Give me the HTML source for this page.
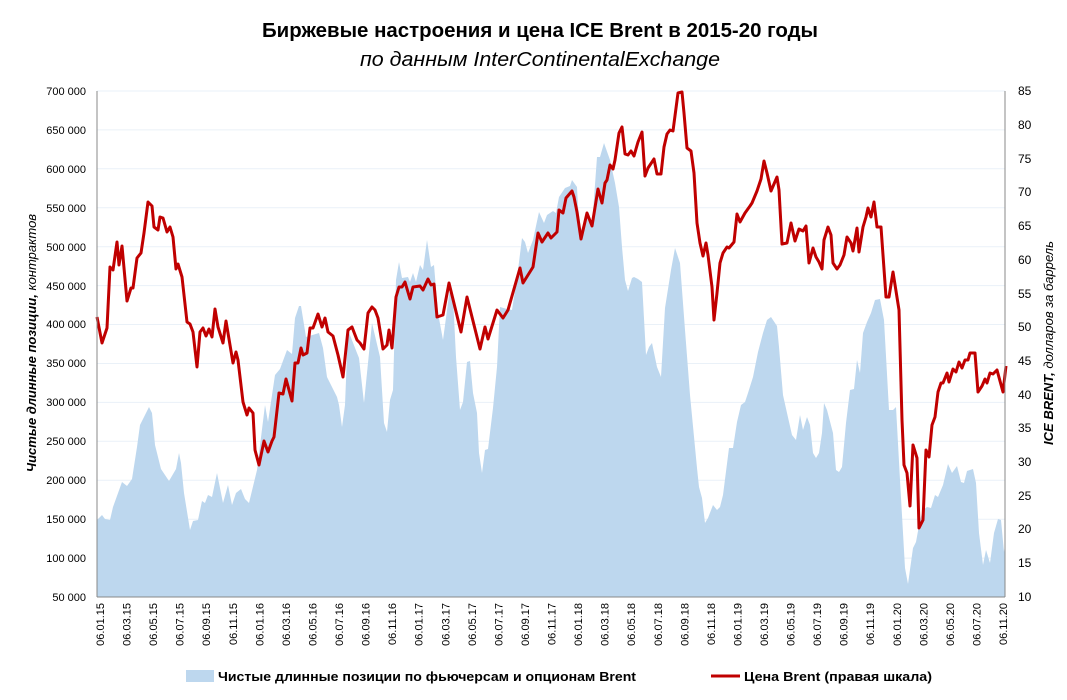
<!DOCTYPE html>
<html><head><meta charset="utf-8"><style>
body{margin:0;background:#fff;}
svg text{font-family:"Liberation Sans",sans-serif;}
</style></head><body>
<svg width="1067" height="695" viewBox="0 0 1067 695" xmlns="http://www.w3.org/2000/svg">
<text x="262" y="37" font-size="20" font-weight="bold" textLength="556" lengthAdjust="spacingAndGlyphs">Биржевые настроения и цена ICE Brent в 2015-20 годы</text>
<text x="360" y="66" font-size="20" font-style="italic" textLength="360" lengthAdjust="spacingAndGlyphs">по данным InterContinentalExchange</text>
<g stroke="#eaf1f8" stroke-width="1">
<line x1="97" x2="1005" y1="91" y2="91"/><line x1="97" x2="1005" y1="129.9" y2="129.9"/><line x1="97" x2="1005" y1="168.8" y2="168.8"/><line x1="97" x2="1005" y1="207.8" y2="207.8"/><line x1="97" x2="1005" y1="246.7" y2="246.7"/><line x1="97" x2="1005" y1="285.6" y2="285.6"/><line x1="97" x2="1005" y1="324.5" y2="324.5"/><line x1="97" x2="1005" y1="363.5" y2="363.5"/><line x1="97" x2="1005" y1="402.4" y2="402.4"/><line x1="97" x2="1005" y1="441.3" y2="441.3"/><line x1="97" x2="1005" y1="480.2" y2="480.2"/><line x1="97" x2="1005" y1="519.2" y2="519.2"/><line x1="97" x2="1005" y1="558.1" y2="558.1"/>
</g>
<polygon fill="#bdd7ee" points="97,597 97,520 102,515 105,519 110,520 113,507 122,482 127,486 132,479 137,447 140,425 145,415 149,407 152,413 155,445 161,469 169,481 176,469 179,453 181,463 184,493 190,530 193,521 198,520 202,501 205,503 208,495 212,497 217,473 223,503 228,485 232,505 236,493 241,489 245,499 249,503 257,470 265,405 268,422 275,375 280,369 287,350 292,354 295,318 299,306 301,306 306,337 319,333 323,348 327,377 337,397 339,405 342,427 345,405 348,330 357,353 359,358 364,403 372,323 380,357 384,423 387,432 390,400 393,390 396,280 399,262 402,278 408,277 410,282 413,273 416,282 420,265 423,270 427,240 431,267 434,265 438,313 443,340 450,288 453,297 456,357 460,410 463,402 467,362 470,361 473,393 477,413 479,453 482,473 485,450 488,449 493,408 497,367 500,307 507,309 512,310 517,278 522,238 525,242 528,253 533,240 539,212 544,223 547,215 553,211 556,213 559,197 565,188 570,186 572,180 577,187 578,207 581,230 587,213 592,226 597,157 600,157 604,143 610,160 615,183 619,207 622,247 625,280 628,291 632,278 634,277 638,279 642,282 646,355 649,347 652,343 657,367 661,377 665,308 671,270 675,248 680,263 685,330 690,395 697,468 699,487 702,498 705,523 708,518 713,505 717,510 720,507 723,495 729,448 733,448 737,422 741,405 745,402 748,393 753,377 758,352 763,333 767,320 771,317 777,326 779,347 783,395 787,413 792,435 796,440 800,415 803,430 807,417 810,425 813,453 816,458 819,453 822,433 824,403 827,410 833,433 836,470 839,472 842,467 846,423 850,390 854,389 857,360 860,373 863,333 867,322 871,313 875,300 880,299 884,320 889,410 893,410 896,407 900,480 905,568 908,584 913,548 916,542 920,520 923,510 927,507 931,508 935,495 938,497 943,485 948,464 952,473 957,466 961,482 964,483 967,471 973,469 976,483 979,533 983,565 986,550 990,563 994,533 998,519 1001,520 1004,552 1005,545 1005,597"/>
<polyline fill="none" stroke="#c00000" stroke-width="3" stroke-linejoin="round" points="97,317 102,343 107,328 110,267 113,270 117,242 119,265 122,246 127,301 131,288 133,288 137,258 141,253 144,233 148,202 152,206 154,227 158,230 160,217 163,218 167,232 170,227 173,237 176,269 178,264 182,277 187,322 190,324 193,332 197,367 200,332 203,328 206,336 209,329 212,337 215,309 218,327 223,343 226,321 233,363 236,352 238,360 243,402 247,415 249,408 253,413 255,450 259,465 264,441 268,452 272,441 274,437 279,393 283,394 286,379 292,401 295,363 298,363 301,348 303,355 307,353 310,328 313,328 318,314 322,327 325,318 328,332 333,336 338,355 343,377 348,330 352,327 357,340 360,343 364,349 368,313 372,307 375,310 378,318 383,349 387,345 389,330 392,348 396,297 399,287 402,287 405,282 410,299 413,287 420,286 423,290 428,279 431,285 434,284 437,317 443,315 449,283 461,332 467,297 480,349 485,327 488,339 497,310 503,318 508,310 520,268 523,283 533,267 538,233 542,242 548,233 551,238 557,232 559,210 563,213 566,198 572,191 574,197 577,212 581,239 587,213 592,226 598,189 602,203 605,183 607,180 610,165 613,169 615,160 619,133 622,127 625,154 628,155 631,151 634,156 638,142 642,132 645,176 648,168 654,159 657,174 661,174 664,147 667,134 670,130 673,131 678,93 682,92 684,113 687,148 691,151 694,173 697,223 700,243 703,256 706,243 708,255 712,287 714,320 717,293 720,263 723,253 727,247 729,248 734,242 737,214 740,222 745,213 750,206 752,203 757,191 761,179 764,161 767,173 771,191 777,177 779,190 782,244 787,243 791,223 795,241 799,229 803,231 806,226 809,263 813,248 816,257 819,262 822,269 824,240 828,227 831,235 833,263 837,269 840,265 844,255 847,237 851,243 853,251 857,228 859,252 863,227 866,217 868,208 871,217 874,202 877,227 881,227 886,297 889,297 893,272 899,310 902,420 904,465 907,473 910,506 913,445 917,458 919,528 923,520 926,450 929,457 932,425 935,417 938,392 941,383 943,383 947,373 949,382 953,369 956,372 959,362 962,368 965,360 968,360 970,353 975,353 978,392 982,386 985,379 987,383 990,373 993,374 997,370 1003,392 1006,366"/>
<g stroke="#888" stroke-width="1">
<line x1="97" y1="91" x2="97" y2="597"/><line x1="1005" y1="91" x2="1005" y2="597"/><line x1="97" y1="597" x2="1005" y2="597"/>
</g>
<g font-size="11" text-anchor="end" fill="#000">
<text x="86" y="95">700 000</text><text x="86" y="134">650 000</text><text x="86" y="173">600 000</text><text x="86" y="212">550 000</text><text x="86" y="251">500 000</text><text x="86" y="290">450 000</text><text x="86" y="328">400 000</text><text x="86" y="367">350 000</text><text x="86" y="406">300 000</text><text x="86" y="445">250 000</text><text x="86" y="484">200 000</text><text x="86" y="523">150 000</text><text x="86" y="562">100 000</text><text x="86" y="601">50 000</text>
</g>
<g font-size="12" text-anchor="start">
<text x="1018" y="95">85</text><text x="1018" y="129">80</text><text x="1018" y="163">75</text><text x="1018" y="196">70</text><text x="1018" y="230">65</text><text x="1018" y="264">60</text><text x="1018" y="298">55</text><text x="1018" y="331">50</text><text x="1018" y="365">45</text><text x="1018" y="399">40</text><text x="1018" y="432">35</text><text x="1018" y="466">30</text><text x="1018" y="500">25</text><text x="1018" y="533">20</text><text x="1018" y="567">15</text><text x="1018" y="601">10</text>
</g>
<text transform="translate(36,343) rotate(-90)" text-anchor="middle" font-size="13" font-style="italic"><tspan font-weight="bold">Чистые длинные позиции,</tspan> контрактов</text>
<text transform="translate(1053,343) rotate(-90)" text-anchor="middle" font-size="13" font-style="italic"><tspan font-weight="bold">ICE BRENT,</tspan> долларов за баррель</text>
<g font-size="11" text-anchor="end">
<text transform="translate(104,603) rotate(-90)">06.01.15</text><text transform="translate(130.6,603) rotate(-90)">06.03.15</text><text transform="translate(157.1,603) rotate(-90)">06.05.15</text><text transform="translate(183.7,603) rotate(-90)">06.07.15</text><text transform="translate(210.2,603) rotate(-90)">06.09.15</text><text transform="translate(236.8,603) rotate(-90)">06.11.15</text><text transform="translate(263.4,603) rotate(-90)">06.01.16</text><text transform="translate(289.9,603) rotate(-90)">06.03.16</text><text transform="translate(316.5,603) rotate(-90)">06.05.16</text><text transform="translate(343,603) rotate(-90)">06.07.16</text><text transform="translate(369.6,603) rotate(-90)">06.09.16</text><text transform="translate(396.2,603) rotate(-90)">06.11.16</text><text transform="translate(422.7,603) rotate(-90)">06.01.17</text><text transform="translate(449.3,603) rotate(-90)">06.03.17</text><text transform="translate(475.8,603) rotate(-90)">06.05.17</text><text transform="translate(502.4,603) rotate(-90)">06.07.17</text><text transform="translate(529,603) rotate(-90)">06.09.17</text><text transform="translate(555.5,603) rotate(-90)">06.11.17</text><text transform="translate(582.1,603) rotate(-90)">06.01.18</text><text transform="translate(608.6,603) rotate(-90)">06.03.18</text><text transform="translate(635.2,603) rotate(-90)">06.05.18</text><text transform="translate(661.8,603) rotate(-90)">06.07.18</text><text transform="translate(688.3,603) rotate(-90)">06.09.18</text><text transform="translate(714.9,603) rotate(-90)">06.11.18</text><text transform="translate(741.4,603) rotate(-90)">06.01.19</text><text transform="translate(768,603) rotate(-90)">06.03.19</text><text transform="translate(794.6,603) rotate(-90)">06.05.19</text><text transform="translate(821.1,603) rotate(-90)">06.07.19</text><text transform="translate(847.7,603) rotate(-90)">06.09.19</text><text transform="translate(874.2,603) rotate(-90)">06.11.19</text><text transform="translate(900.8,603) rotate(-90)">06.01.20</text><text transform="translate(927.4,603) rotate(-90)">06.03.20</text><text transform="translate(953.9,603) rotate(-90)">06.05.20</text><text transform="translate(980.5,603) rotate(-90)">06.07.20</text><text transform="translate(1007,603) rotate(-90)">06.11.20</text>
</g>
<rect x="186" y="670" width="28" height="12" fill="#bdd7ee"/>
<text x="218" y="681" font-size="13" font-weight="bold" textLength="418" lengthAdjust="spacingAndGlyphs">Чистые длинные позиции по фьючерсам и опционам Brent</text>
<line x1="711" y1="676" x2="740" y2="676" stroke="#c00000" stroke-width="3"/>
<text x="744" y="681" font-size="13" font-weight="bold" textLength="188" lengthAdjust="spacingAndGlyphs">Цена Brent (правая шкала)</text>
</svg>
</body></html>
